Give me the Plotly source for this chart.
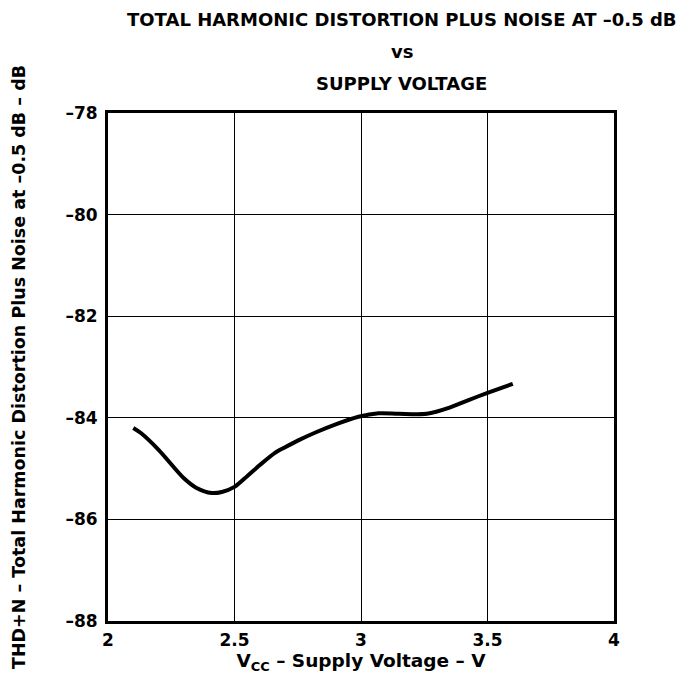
import plotly.graph_objects as go

# THD+N vs supply voltage
vcc = [2.10, 2.13, 2.20, 2.30, 2.35, 2.41, 2.45, 2.50, 2.55, 2.60, 2.66, 2.70, 2.75,
       2.82, 2.90, 2.99, 3.07, 3.15, 3.26, 3.35, 3.42, 3.50, 3.60]
thdn = [-84.20, -84.30, -84.63, -85.19, -85.38, -85.48, -85.46, -85.36, -85.15, -84.93,
        -84.69, -84.58, -84.45, -84.29, -84.13, -83.98, -83.91, -83.92, -83.92, -83.80,
        -83.66, -83.51, -83.33]

x_ticks = [2, 2.5, 3, 3.5, 4]
x_labels = ["2", "2.5", "3", "3.5", "4"]
y_ticks = [-78, -80, -82, -84, -86, -88]
y_labels = ["–78", "–80", "–82", "–84", "–86", "–88"]

FONT = "DejaVu Sans, Liberation Sans, sans-serif"
bold = lambda size: dict(family=FONT, size=size, color="black", weight="bold")

fig = go.Figure()
fig.add_trace(go.Scatter(x=vcc, y=thdn, mode="lines",
                         line=dict(color="black", width=4, shape="spline", smoothing=0.8),
                         showlegend=False, hoverinfo="skip"))

axis_common = dict(showgrid=True, gridcolor="black", gridwidth=1, zeroline=False,
                   showline=True, linecolor="black", linewidth=3, mirror=True,
                   ticks="outside", tickcolor="rgba(0,0,0,0)",
                   tickfont=bold(17), automargin=False)
fig.update_xaxes(range=[2, 4], tickvals=x_ticks, ticktext=x_labels, ticklen=2, **axis_common,
                 title=dict(text="V<sub>CC</sub> – Supply Voltage – V", font=bold(18.5), standoff=1))
fig.update_yaxes(range=[-88, -78], tickvals=y_ticks, ticktext=y_labels, ticklen=4, **axis_common,
                 title=dict(text="THD+N – Total Harmonic Distortion Plus Noise at –0.5 dB – dB",
                            font=bold(17.5), standoff=36))

title_lines = ["TOTAL HARMONIC DISTORTION PLUS NOISE AT –0.5 dB", "vs", "SUPPLY VOLTAGE"]
for i, t in enumerate(title_lines):
    fig.add_annotation(text=t, xref="paper", yref="paper", x=0.581, y=1.0,
                       yshift=94 - 32 * i, showarrow=False, xanchor="center", yanchor="middle",
                       font=bold(18))

# page body adds an 8 px offset, so margins are trimmed to land the plot where the reference has it
fig.update_layout(width=690, height=684, plot_bgcolor="white", paper_bgcolor="white",
                  margin=dict(l=100, r=84, t=105, b=71))

fig.write_html("out.html")
